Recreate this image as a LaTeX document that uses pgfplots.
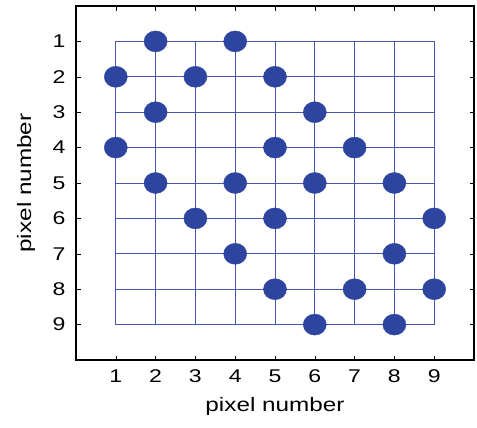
\documentclass[border=0pt]{standalone}
\usepackage{pgfplots}
\pgfplotsset{compat=1.18}
\usepackage{fontspec}
\setmainfont[FakeStretch=1.25]{Liberation Sans}
\definecolor{dotblue}{RGB}{46,69,160}
\definecolor{gridblue}{RGB}{70,88,172}
\begin{document}
\begin{tikzpicture}
\useasboundingbox (0,0) rectangle (477bp,428bp);
\begin{axis}[
  at={(76bp,68bp)}, anchor=south west,
  scale only axis, width=398bp, height=354bp,
  xmin=0, xmax=10, ymin=0, ymax=10,
  y dir=reverse,
  xtick={1,...,9}, ytick={1,...,9},
  tick pos=both, tick align=inside,
  major tick length=4.5bp,
  axis line style={line width=1.2bp},
  every tick/.style={black, line width=0.6bp},
  tick label style={font=\fontsize{18.5}{20}\selectfont},
  xticklabel style={yshift=-6.5bp},
  yticklabel style={xshift=-7bp},
  /pgf/number format/assume math mode=true,
  label style={font=\fontsize{19.5}{22}\selectfont},
  xlabel={pixel number},
  ylabel={pixel number},
  xlabel style={at={(axis description cs:0.5,-0.13)}, anchor=center},
  ylabel style={at={(axis description cs:-0.1256,0.5)}, anchor=center, rotate=0},
  unbounded coords=jump,
  clip=false,
]
% grid lines
\addplot[gridblue, line width=0.75bp, no marks] coordinates {
(1,1) (9,1) (nan,nan) (1,2) (9,2) (nan,nan) (1,3) (9,3) (nan,nan)
(1,4) (9,4) (nan,nan) (1,5) (9,5) (nan,nan) (1,6) (9,6) (nan,nan)
(1,7) (9,7) (nan,nan) (1,8) (9,8) (nan,nan) (1,9) (9,9) (nan,nan)
(1,1) (1,9) (nan,nan) (2,1) (2,9) (nan,nan) (3,1) (3,9) (nan,nan)
(4,1) (4,9) (nan,nan) (5,1) (5,9) (nan,nan) (6,1) (6,9) (nan,nan)
(7,1) (7,9) (nan,nan) (8,1) (8,9) (nan,nan) (9,1) (9,9)
};
% dots
\addplot[only marks, mark=*, mark size=10.5bp,
  mark options={fill=dotblue, draw=dotblue, xscale=1.1}] coordinates {
(2,1) (4,1)
(1,2) (3,2) (5,2)
(2,3) (6,3)
(1,4) (5,4) (7,4)
(2,5) (4,5) (6,5) (8,5)
(3,6) (5,6) (9,6)
(4,7) (8,7)
(5,8) (7,8) (9,8)
(6,9) (8,9)
};
\end{axis}
\end{tikzpicture}
\end{document}
